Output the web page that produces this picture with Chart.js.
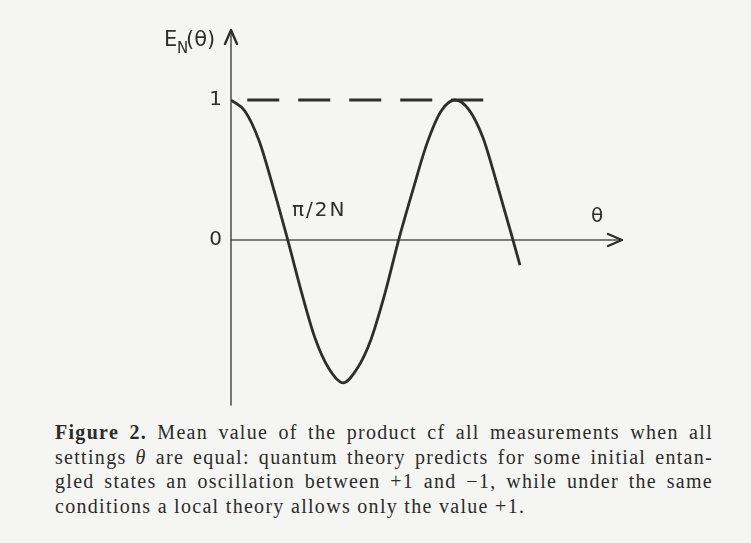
<!DOCTYPE html>
<html>
<head>
<meta charset="utf-8">
<script src="https://cdn.jsdelivr.net/npm/chart.js@4/dist/chart.umd.min.js"></script>
<style>
  html, body { margin: 0; padding: 0; background: #f5f5f3; }
  body { width: 751px; height: 543px; position: relative; overflow: hidden; }
  #plot { position: absolute; left: 0; top: 0; }
  #caption {
    position: absolute; left: 55px; top: 420px; width: 658px;
    font-family: "Liberation Serif", "DejaVu Serif", serif;
    font-size: 20px; line-height: 24.5px; color: #2b2b2b; letter-spacing: 1.3px;
  }
  #caption span { display: block; text-align: justify; text-align-last: justify; white-space: nowrap; }
  #caption span.last { text-align-last: left; }
  #caption b { font-weight: bold; }
</style>
</head>
<body>
<canvas id="plot" width="751" height="412"></canvas>
<div id="caption">
  <span><b>Figure 2.</b> Mean value of the product cf all measurements when all</span>
  <span>settings <i>θ</i> are equal: quantum theory predicts for some initial entan-</span>
  <span>gled states an oscillation between +1 and −1, while under the same</span>
  <span class="last">conditions a local theory allows only the value +1.</span>
</div>
<script>
// theta in units of pi/2N
const thetaValues = [0, 0.25, 0.5, 0.75, 1, 1.25, 1.5, 1.75, 2, 2.25, 2.5, 2.75, 3, 3.25, 3.5, 3.75, 4, 4.25, 4.5, 4.75, 5, 5.16];
const quantumValues = [1, 0.92, 0.71, 0.38, 0.02, -0.36, -0.7, -0.92, -1.02, -0.92, -0.71, -0.38, 0.01, 0.36, 0.69, 0.92, 1, 0.93, 0.73, 0.4, 0.05, -0.18];
const localTheta = [0.29, 4.62];
const localValues = [1, 1];
const yTickValues = [0, 1];
const yTickLabels = ['0', '1'];

const toPoints = (xs, ys) => xs.map((x, i) => ({ x, y: ys[i] }));

const INK = '#2e2e2e';
const AXIS = '#555';

const axesPlugin = {
  id: 'handAxes',
  beforeDatasetsDraw(chart) {
    const { ctx, chartArea, scales: { x, y } } = chart;
    const x0 = x.getPixelForValue(0);
    const y0 = y.getPixelForValue(0);
    ctx.save();
    ctx.strokeStyle = AXIS;
    ctx.lineWidth = 1.6;
    ctx.lineCap = 'round';
    ctx.lineJoin = 'round';
    // vertical axis with arrow
    ctx.beginPath();
    ctx.moveTo(x0, chartArea.bottom);
    ctx.lineTo(x0, chartArea.top);
    ctx.stroke();
    ctx.lineWidth = 2.4;
    ctx.strokeStyle = INK;
    ctx.beginPath();
    ctx.moveTo(x0 - 6, chartArea.top + 14);
    ctx.lineTo(x0, chartArea.top);
    ctx.lineTo(x0 + 6, chartArea.top + 14);
    ctx.stroke();
    // horizontal axis with arrow
    ctx.lineWidth = 1.6;
    ctx.strokeStyle = AXIS;
    ctx.beginPath();
    ctx.moveTo(x0, y0);
    ctx.lineTo(chartArea.right, y0);
    ctx.stroke();
    ctx.lineWidth = 2.4;
    ctx.strokeStyle = INK;
    ctx.beginPath();
    ctx.moveTo(chartArea.right - 14, y0 - 6);
    ctx.lineTo(chartArea.right, y0);
    ctx.lineTo(chartArea.right - 14, y0 + 6);
    ctx.stroke();
    ctx.restore();
  },
  afterDraw(chart) {
    const { ctx, chartArea, scales: { x, y } } = chart;
    const x0 = x.getPixelForValue(0);
    const y0 = y.getPixelForValue(0);
    ctx.save();
    ctx.fillStyle = INK;
    ctx.font = '20px "DejaVu Sans", sans-serif';
    ctx.textBaseline = 'middle';
    ctx.textAlign = 'right';
    yTickValues.forEach((v, i) => {
      ctx.fillText(yTickLabels[i], x0 - 9, y.getPixelForValue(v));
    });
    // vertical axis title, ends just left of the arrow
    ctx.textAlign = 'left';
    ctx.font = '21px "DejaVu Sans", sans-serif';
    ctx.fillText('E', 164, chartArea.top + 11);
    ctx.font = '15px "DejaVu Sans", sans-serif';
    ctx.fillText('N', 177, chartArea.top + 19);
    ctx.font = '21px "DejaVu Sans", sans-serif';
    ctx.fillText('(θ)', 186, chartArea.top + 11);
    ctx.font = '20px "DejaVu Sans", sans-serif';
    ctx.fillText('θ', 591, y0 - 23);
    ctx.letterSpacing = '2px';
    ctx.fillText('π/2N', x.getPixelForValue(1) + 5, y0 - 29);
    ctx.restore();
  },
};

new Chart(document.getElementById('plot'), {
  type: 'line',
  data: {
    datasets: [
      {
        label: 'quantum',
        data: toPoints(thetaValues, quantumValues),
        borderColor: INK,
        borderWidth: 2.8,
        pointRadius: 0,
        cubicInterpolationMode: 'monotone',
        fill: false,
      },
      {
        label: 'local',
        data: toPoints(localTheta, localValues),
        borderColor: INK,
        borderWidth: 3,
        borderDash: [32, 19],
        pointRadius: 0,
        fill: false,
      },
    ],
  },
  options: {
    responsive: false,
    animation: false,
    layout: { padding: { left: 231, right: 129, top: 30, bottom: 7 } },
    plugins: { legend: { display: false }, tooltip: { enabled: false } },
    scales: {
      x: { type: 'linear', display: false, min: 0, max: 6.982 },
      y: { type: 'linear', display: false, min: -1.1786, max: 1.5 },
    },
  },
  plugins: [axesPlugin],
});
</script>
</body>
</html>
